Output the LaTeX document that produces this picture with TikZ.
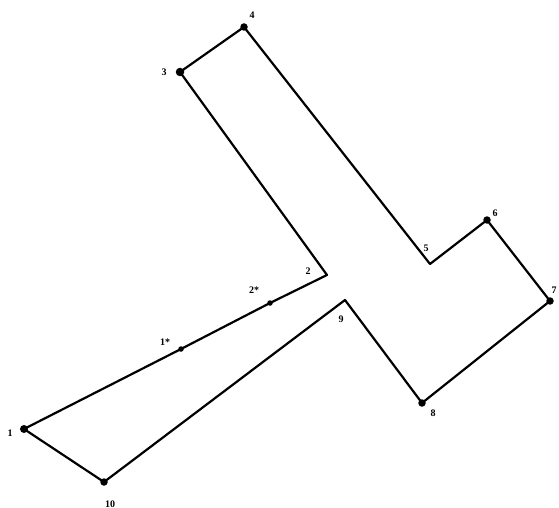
\documentclass[tikz,border=0pt]{standalone}
\usepackage{fontspec}
\setmainfont{Liberation Serif}
\tikzset{
  vertex/.style={circle,fill=black,draw=none,inner sep=0pt,minimum size=#1},
  vertex/.default=6pt,
  tag/.style={font=\bfseries\fontsize{10}{10}\selectfont,text=black,inner sep=0pt},
  outline/.style={draw=black,line width=2.2pt,line join=round,line cap=round}
}
\begin{document}
\begin{tikzpicture}[x=1pt,y=-1pt]
\useasboundingbox (0,0) rectangle (559,508);
\coordinate (v2) at (327,275);
\coordinate (v5) at (430,264);
\coordinate (v9) at (345,300);
\node[vertex=8pt] (v1) at (24,429) {};
\node[vertex=8.5pt] (v3) at (180,72) {};
\node[vertex=7.5pt] (v4) at (244,27) {};
\node[vertex=7.5pt] (v6) at (487,220) {};
\node[vertex=7.5pt] (v7) at (550,301) {};
\node[vertex=7.5pt] (v8) at (422,403) {};
\node[vertex=7.5pt] (v10) at (104,482) {};
\node[vertex=5.5pt] (s1) at (181,349) {};
\node[vertex=5.5pt] (s2) at (270,303) {};
\draw[outline] (v1.center) -- (s1.center) -- (s2.center) -- (v2) -- (v3.center) -- (v4.center) -- (v5) -- (v6.center) -- (v7.center) -- (v8.center) -- (v9) -- (v10.center) -- cycle;
\node[tag] (l1) at (10,433) {1};
\node[tag] (l2) at (308,271) {2};
\node[tag] (l3) at (164,72) {3};
\node[tag] (l4) at (252,15) {4};
\node[tag] (l5) at (426,248) {5};
\node[tag] (l6) at (495,213) {6};
\node[tag] (l7) at (554,290) {7};
\node[tag] (l8) at (433,413) {8};
\node[tag] (l9) at (341,319) {9};
\node[tag] (l10) at (110,504) {10};
\node[tag] (ls1) at (165,342) {1*};
\node[tag] (ls2) at (254,290) {2*};
\end{tikzpicture}
\end{document}
